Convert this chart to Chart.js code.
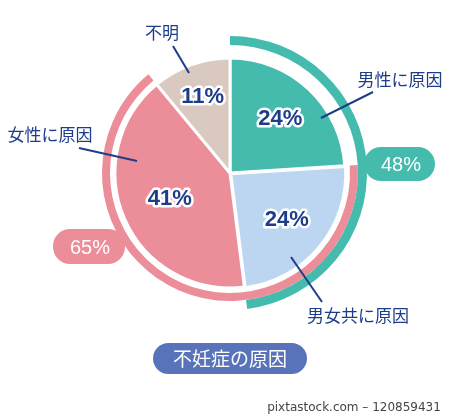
<!DOCTYPE html>
<html>
<head>
<meta charset="utf-8">
<script src="https://cdn.jsdelivr.net/npm/chart.js@4"></script>
<style>
  html, body { margin: 0; padding: 0; background: #fff; }
</style>
</head>
<body>
<canvas id="chart" width="450" height="416"></canvas>
<script>
// data
const categories = ['男性に原因', '男女共に原因', '女性に原因', '不明'];
const shares = [24, 24, 41, 11];
const causeTotals = [48, 65];   // man involved, woman involved
const title = '不妊症の原因';
const credit = 'pixtastock.com – 120859431';

const teal = '#45bbad';
const pink = '#ec8d9a';
const navy = '#1d3d8b';
const sliceColors = [teal, '#bcd6f1', pink, '#d9c9c1'];
const clear = 'rgba(0,0,0,0)';

// where the % goes inside each slice (fraction of radius)
const labelRadius = [0.64, 0.64, 0.57, 0.70];

function roundRect(c, x, y, w, h, r, color) {
    c.beginPath();
    c.moveTo(x + r, y);
    c.arcTo(x + w, y, x + w, y + h, r);
    c.arcTo(x + w, y + h, x, y + h, r);
    c.arcTo(x, y + h, x, y, r);
    c.arcTo(x, y, x + w, y, r);
    c.closePath();
    c.fillStyle = color;
    c.fill();
}

function callout(c, text, tx, ty, x1, y1, x2, y2) {
    c.font = '17px "Noto Sans CJK JP", sans-serif';
    c.fillStyle = navy;
    c.fillText(text, tx, ty);
    c.beginPath();
    c.moveTo(x1, y1);
    c.lineTo(x2, y2);
    c.strokeStyle = navy;
    c.lineWidth = 2;
    c.stroke();
}

const labelPlugin = {
    id: 'labels',
    afterDraw(chart) {
        const c = chart.ctx;
        const pie = chart.getDatasetMeta(3).data;
        c.save();
        c.textAlign = 'center';
        c.textBaseline = 'middle';
        c.lineJoin = 'round';

        // percentages inside the slices
        c.font = 'bold 22px "Liberation Sans", Arial, sans-serif';
        pie.forEach(function (arc, i) {
            const p = arc.getProps(['x', 'y', 'startAngle', 'endAngle', 'outerRadius']);
            const mid = (p.startAngle + p.endAngle) / 2;
            const r = p.outerRadius * labelRadius[i];
            const x = p.x + Math.cos(mid) * r;
            const y = p.y + Math.sin(mid) * r;
            c.lineWidth = 5;
            c.strokeStyle = '#fff';
            c.strokeText(shares[i] + '%', x, y);
            c.fillStyle = navy;
            c.fillText(shares[i] + '%', x, y);
        });

        // category callouts
        callout(c, categories[0], 400, 80, 373, 92, 321, 118);
        callout(c, categories[1], 358, 316, 291, 257, 322, 302);
        callout(c, categories[2], 50, 135, 79, 148, 137, 161);
        callout(c, categories[3], 162, 33, 173, 46, 189, 73);

        // totals pills
        roundRect(c, 364, 147, 71, 34, 17, teal);
        roundRect(c, 53, 229, 72, 35, 17, pink);
        c.font = '20px "Liberation Sans", Arial, sans-serif';
        c.fillStyle = '#fff';
        c.fillText(causeTotals[0] + '%', 401, 165);
        c.fillText(causeTotals[1] + '%', 90, 248);

        // title
        roundRect(c, 153, 343, 154, 31, 15.5, '#5873b9');
        c.font = '19px "Noto Sans CJK JP", sans-serif';
        c.fillStyle = '#fff';
        c.fillText(title, 230, 359);

        // credit line
        c.font = '12px "DejaVu Sans", sans-serif';
        c.fillStyle = '#444';
        c.fillText(credit, 354, 408);
        c.restore();
    }
};

new Chart(document.getElementById('chart'), {
    type: 'doughnut',
    data: {
        labels: categories,
        datasets: [
            {   // outer teal ring: causes involving the man
                data: [causeTotals[0], 100 - causeTotals[0]],
                backgroundColor: [teal, clear],
                borderWidth: 0,
                weight: 9
            },
            {   // pink ring: causes involving the woman
                data: [shares[0], causeTotals[1], 100 - shares[0] - causeTotals[1]],
                backgroundColor: [clear, pink, clear],
                borderWidth: 0,
                weight: 8
            },
            {   // white gap
                data: [100],
                backgroundColor: clear,
                borderWidth: 0,
                weight: 5
            },
            {
                data: shares,
                backgroundColor: sliceColors,
                borderColor: '#fff',
                borderWidth: 3,
                offset: [0, 4, 0, 0],
                weight: 115
            }
        ]
    },
    options: {
        responsive: false,
        animation: false,
        radius: 137,
        cutout: 0,
        layout: { padding: { left: 80, right: 70, top: 23, bottom: 93 } },
        plugins: {
            legend: { display: false },
            tooltip: { enabled: false }
        }
    },
    plugins: [labelPlugin]
});
</script>
</body>
</html>
